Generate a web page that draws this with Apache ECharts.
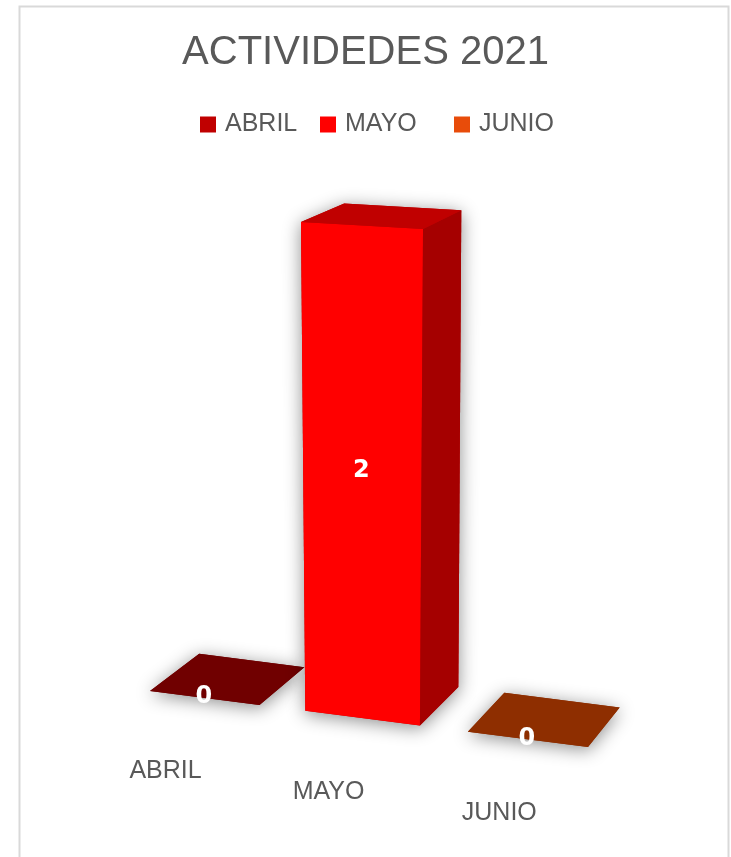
<!DOCTYPE html>
<html>
<head>
<meta charset="utf-8">
<script src="https://cdn.jsdelivr.net/npm/echarts@6/dist/echarts.min.js"></script>
<style>
  html, body { margin: 0; padding: 0; background: #ffffff; }
  #chart { width: 731px; height: 857px; }
</style>
</head>
<body>
<div id="chart"></div>
<script>
// ---- data ----
const categories = ['ABRIL', 'MAYO', 'JUNIO'];
const values = [0, 2, 0];
const titleText = 'ACTIVIDEDES 2021';

// ---- styles ----
const legendColors = ['#C00000', '#FF0000', '#E84C0A'];
const frontColors = ['#C00000', '#FF0000', '#E84C0A'];
const topColors = ['#700000', '#C00000', '#8E2E00'];
const sideColors = ['#8A0000', '#A50000', '#A83800'];
const legendLefts = [200, 320, 454];
const FONT = "'Liberation Sans', Arial, sans-serif";
const LABEL_FONT = "'DejaVu Sans', 'Liberation Sans', sans-serif";
const TEXT_COLOR = '#595959';

// perspective layout (flat grid fractions -> screen points)
const WARP_SRC = [[0.0483, 1], [0.9517, 1], [0.3817, 0], [0.6183, 0]];
const WARP_DST = [[150, 691], [588, 747], [301, 222], [423, 229]];
const VP = [1380, -240];   // depth vanishing point
const DEPTH = 0.04;        // depth ratio
const BAR_FRAC = 0.71;

function solve(A, b) {
  const n = b.length;
  for (let i = 0; i < n; i++) {
    let p = i;
    for (let r = i + 1; r < n; r++) if (Math.abs(A[r][i]) > Math.abs(A[p][i])) p = r;
    [A[i], A[p]] = [A[p], A[i]]; [b[i], b[p]] = [b[p], b[i]];
    for (let r = i + 1; r < n; r++) {
      const f = A[r][i] / A[i][i];
      for (let c = i; c < n; c++) A[r][c] -= f * A[i][c];
      b[r] -= f * b[i];
    }
  }
  const x = new Array(n).fill(0);
  for (let i = n - 1; i >= 0; i--) {
    let s = b[i];
    for (let c = i + 1; c < n; c++) s -= A[i][c] * x[c];
    x[i] = s / A[i][i];
  }
  return x;
}
function homography(cs) {
  const A = [], b = [];
  for (let i = 0; i < 4; i++) {
    const x = cs.x + WARP_SRC[i][0] * cs.width;
    const y = cs.y + WARP_SRC[i][1] * cs.height;
    const u = WARP_DST[i][0], v = WARP_DST[i][1];
    A.push([x, y, 1, 0, 0, 0, -x * u, -y * u]); b.push(u);
    A.push([0, 0, 0, x, y, 1, -x * v, -y * v]); b.push(v);
  }
  return solve(A, b);
}
function proj(h, x, y) {
  const w = h[6] * x + h[7] * y + 1;
  return [(h[0] * x + h[1] * y + h[2]) / w, (h[3] * x + h[4] * y + h[5]) / w];
}
function back(p) {
  return [p[0] + DEPTH * (VP[0] - p[0]), p[1] + DEPTH * (VP[1] - p[1])];
}

function renderItem(params, api) {
  const h = homography(params.coordSys);
  const idx = api.value(0), val = api.value(1);
  const band = api.size([1, 0])[0];
  const bw = band * BAR_FRAC;
  const c0 = api.coord([idx, 0]);
  const c1 = api.coord([idx, val]);
  const xl = c0[0] - bw / 2, xr = c0[0] + bw / 2, yb = c0[1], yt = c1[1];
  const fBL = proj(h, xl, yb), fBR = proj(h, xr, yb), fTL = proj(h, xl, yt), fTR = proj(h, xr, yt);
  const bTL = back(fTL), bTR = back(fTR), bBR = back(fBR);
  const children = [];
  children.push({
    type: 'polygon', shape: { points: [fBL, fTL, bTL, bTR, bBR, fBR] },
    style: { fill: topColors[idx], shadowBlur: 18, shadowColor: 'rgba(0,0,0,0.45)', shadowOffsetY: 3 }
  });
  if (Math.abs(yb - yt) > 0.5) {
    children.push({ type: 'polygon', shape: { points: [fBL, fBR, fTR, fTL] }, style: { fill: frontColors[idx] } });
    children.push({ type: 'polygon', shape: { points: [fBR, bBR, bTR, fTR] }, style: { fill: sideColors[idx] } });
  }
  children.push({ type: 'polygon', shape: { points: [fTL, fTR, bTR, bTL] }, style: { fill: topColors[idx] } });
  // value label at front-face centre
  const cx = (fBL[0] + fBR[0] + fTL[0] + fTR[0]) / 4;
  const cy = (fBL[1] + fBR[1] + fTL[1] + fTR[1]) / 4;
  children.push({
    type: 'text', x: cx - 1, y: cy - 1,
    style: { text: String(val), fill: '#ffffff', font: 'bold 24px ' + LABEL_FONT, align: 'center', verticalAlign: 'middle' }
  });
  // category label on the floor
  const F = proj(h, c0[0], yb);
  const lx = F[0] - 0.033 * (VP[0] - F[0]);
  const ly = F[1] - 0.033 * (VP[1] - F[1]) + 42;
  children.push({
    type: 'text', x: lx, y: ly,
    style: { text: categories[idx], fill: TEXT_COLOR, font: '25px ' + FONT, align: 'center', verticalAlign: 'middle' }
  });
  return { type: 'group', children };
}

const chart = echarts.init(document.getElementById('chart'), null, { renderer: 'canvas' });
chart.setOption({
  backgroundColor: '#ffffff',
  animation: false,
  title: {
    text: titleText, left: 'center', top: 28,
    textStyle: { fontFamily: FONT, fontSize: 40, fontWeight: 'normal', color: TEXT_COLOR }
  },
  legend: categories.map((name, i) => ({
    left: legendLefts[i], top: 112, padding: 0, itemWidth: 16, itemHeight: 16, icon: 'rect',
    data: [name],
    textStyle: { fontFamily: FONT, fontSize: 25, color: TEXT_COLOR, padding: [0, 0, 0, 4] }
  })),
  grid: { left: 100, top: 220, width: 480, height: 490 },
  xAxis: { type: 'category', data: categories, show: false },
  yAxis: { type: 'value', min: 0, max: 2, show: false },
  graphic: [{
    type: 'rect', left: 17, top: 4, z: -10,
    shape: { width: 709, height: 870 },
    style: { fill: 'none', stroke: '#D9D9D9', lineWidth: 2 }
  }],
  series: categories.map((name, i) => ({
    type: 'custom', name: name,
    itemStyle: { color: legendColors[i] },
    encode: { x: 0, y: 1 },
    data: [[i, values[i]]],
    renderItem: renderItem
  }))
});
</script>
</body>
</html>
